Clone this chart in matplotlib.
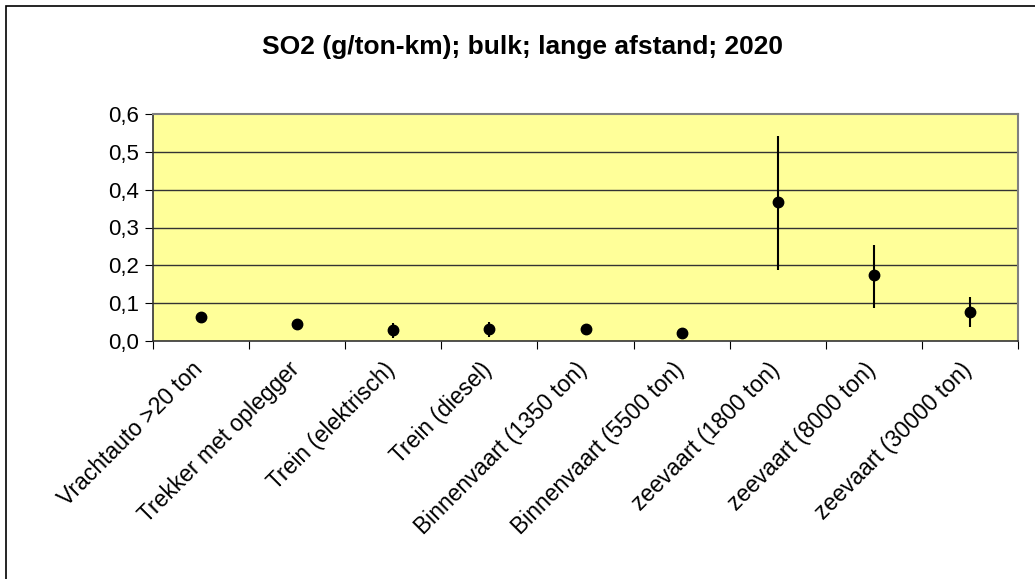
import matplotlib
matplotlib.use("Agg")
import matplotlib.pyplot as plt
from matplotlib.patches import Rectangle

categories = ["Vrachtauto >20 ton", "Trekker met oplegger", "Trein (elektrisch)",
              "Trein (diesel)", "Binnenvaart (1350 ton)", "Binnenvaart (5500 ton)",
              "zeevaart (1800 ton)", "zeevaart (8000 ton)", "zeevaart (30000 ton)"]
values = [0.064, 0.045, 0.029, 0.032, 0.032, 0.021, 0.367, 0.174, 0.077]
upper = [0.064, 0.045, 0.048, 0.050, 0.032, 0.021, 0.541, 0.255, 0.115]
lower = [0.064, 0.045, 0.008, 0.011, 0.032, 0.021, 0.188, 0.087, 0.038]
yticks = [0.0, 0.1, 0.2, 0.3, 0.4, 0.5, 0.6]
ytick_labels = ["0,0", "0,1", "0,2", "0,3", "0,4", "0,5", "0,6"]
title = "SO2 (g/ton-km); bulk; lange afstand; 2020"

plt.rcParams['font.family'] = ['Liberation Sans', 'DejaVu Sans']

W, H = 1035, 579
fig = plt.figure(figsize=(W / 100, H / 100), dpi=100)
fig.patch.set_facecolor('white')

# outer chart border (only left and top visible)
fig.add_artist(Rectangle((6 / W, -0.1), 1.2, (H - 6) / H + 0.1, transform=fig.transFigure,
                         fill=False, edgecolor='black', linewidth=1.2, clip_on=False))

ax = fig.add_axes([153 / W, (H - 341) / H, (1018 - 153) / W, (341 - 114) / H])
ax.set_facecolor('#FFFF99')

x = list(range(len(categories)))
yerr = [[v - l for v, l in zip(values, lower)], [u - v for u, v in zip(upper, values)]]
ax.errorbar(x, values, yerr=yerr, fmt='o', color='black', markersize=7.5,
            elinewidth=1.5, capsize=0, zorder=3)

ax.set_xlim(-0.5, len(categories) - 0.5)
ax.set_ylim(0, 0.6)
ax.set_yticks(yticks)
ax.set_yticklabels(ytick_labels, fontsize=16)
for yv in yticks[1:-1]:
    ax.axhline(yv, color='#333333', linewidth=1.0, zorder=1)

ax.set_xticks([i + 0.5 for i in range(-1, len(categories))], minor=False)
ax.set_xticklabels([])
ax.tick_params(axis='x', which='major', length=6, direction='out', color='black')
ax.tick_params(axis='y', length=6, direction='out', color='black', pad=4)

for i, c in enumerate(categories):
    ax.text(i - 0.1, -0.045, c, rotation=45, ha='right', va='top', rotation_mode='anchor',
            fontsize=16.5, transform=ax.transData, clip_on=False)

for s in ['top', 'right']:
    ax.spines[s].set_color('#808080')
    ax.spines[s].set_linewidth(1.5)
for s in ['left', 'bottom']:
    ax.spines[s].set_color('#333333')
    ax.spines[s].set_linewidth(1.2)

fig.text(522 / W, 1 - 47 / H, title, ha='center', va='center',
         fontsize=19, fontweight='bold')

fig.savefig('out.png', dpi=100)
